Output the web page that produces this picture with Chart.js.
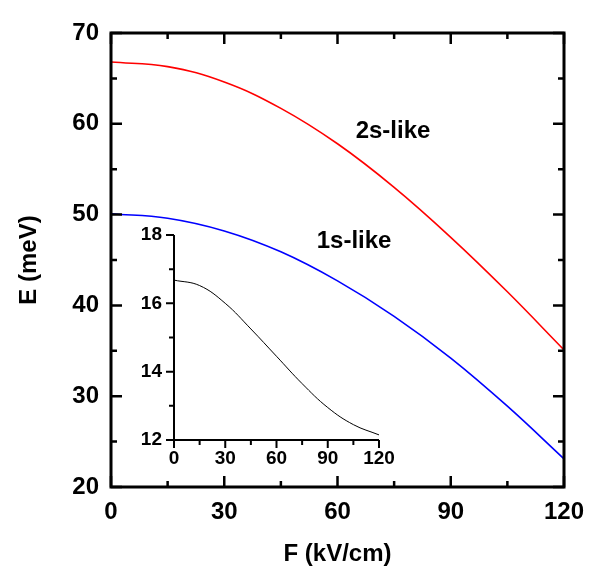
<!DOCTYPE html>
<html>
<head>
<meta charset="utf-8">
<script src="https://cdn.jsdelivr.net/npm/chart.js@4"></script>
<style>
    html, body { margin: 0; padding: 0; background: #fff; }
    #wrap { position: relative; width: 596px; height: 566px; }
    #mainChart { position: absolute; left: 0; top: 0; }
    #insetChart { position: absolute; left: 120px; top: 220px; }
</style>
</head>
<body>
<div id="wrap">
    <canvas id="mainChart" width="596" height="566"></canvas>
    <canvas id="insetChart" width="280" height="260"></canvas>
</div>
<script>
// ===== Data =====

var fieldKv   = [0, 15, 30, 45, 60, 75, 90, 105, 120];
var energy2s  = [66.8, 66.3, 64.6, 61.7, 57.8, 53.0, 47.5, 41.5, 35.1];
var energy1s  = [50.1, 49.6, 48.2, 45.9, 42.7, 38.8, 34.2, 28.9, 23.1];
var splitting = [16.68, 16.52, 16.0, 15.25, 14.45, 13.65, 12.95, 12.45, 12.15];

var xTicksMain = [0, 30, 60, 90, 120];
var yTicksMain = [20, 30, 40, 50, 60, 70];
var yTicksInset = [12, 14, 16, 18];

var curveLabels = ['2s-like', '1s-like'];
var curveLabelF = [74.7, 64.4];
var curveLabelE = [59.2, 47.0];

var FONT = '"Liberation Sans", Arial, Helvetica, sans-serif';

function toPoints(xs, ys) {
    var pts = [];
    for (var i = 0; i < xs.length; i++) pts.push({ x: xs[i], y: ys[i] });
    return pts;
}

function noPad(s) {
    s.paddingTop = 0; s.paddingBottom = 0;
    s.paddingLeft = 0; s.paddingRight = 0;
}

// ===== Frame + tick marks plugin =====
// draws box / axes and major+minor ticks using the chart scales

var framePlugin = {
    id: 'frame',
    afterDatasetsDraw: function(chart, args, o) {
        var ctx = chart.ctx;
        var a = chart.chartArea;
        var xs = chart.scales.x, ys = chart.scales.y;
        var dir = o.inward ? -1 : 1;
        ctx.save();
        ctx.strokeStyle = '#000';
        ctx.lineCap = 'butt';

        ctx.lineWidth = o.tickWidth;
        ctx.beginPath();
        for (var v = xs.min; v <= xs.max + 1e-9; v += o.xMinor) {
            var px = xs.getPixelForValue(v);
            var major = Math.abs(v / o.xMajor - Math.round(v / o.xMajor)) < 1e-6;
            var len = major ? o.majorLen : o.minorLen;
            ctx.moveTo(px, a.bottom);
            ctx.lineTo(px, a.bottom + dir * len);
            if (o.mirror) {
                ctx.moveTo(px, a.top);
                ctx.lineTo(px, a.top - dir * len);
            }
        }
        for (var w = ys.min; w <= ys.max + 1e-9; w += o.yMinor) {
            var py = ys.getPixelForValue(w);
            var majorY = Math.abs(w / o.yMajor - Math.round(w / o.yMajor)) < 1e-6;
            var lenY = majorY ? o.majorLen : o.minorLen;
            ctx.moveTo(a.left, py);
            ctx.lineTo(a.left - dir * lenY, py);
            if (o.mirror) {
                ctx.moveTo(a.right, py);
                ctx.lineTo(a.right + dir * lenY, py);
            }
        }
        ctx.stroke();

        ctx.lineWidth = o.lineWidth;
        ctx.beginPath();
        if (o.mirror) {
            ctx.rect(a.left, a.top, a.right - a.left, a.bottom - a.top);
        } else {
            ctx.moveTo(a.left, a.top);
            ctx.lineTo(a.left, a.bottom);
            ctx.lineTo(a.right, a.bottom);
        }
        ctx.stroke();

        // curve labels
        if (o.labels) {
            ctx.fillStyle = '#000';
            ctx.font = 'bold 24px ' + FONT;
            ctx.textAlign = 'center';
            ctx.textBaseline = 'middle';
            for (var i = 0; i < o.labels.length; i++) {
                ctx.fillText(o.labels[i], xs.getPixelForValue(o.labelX[i]), ys.getPixelForValue(o.labelY[i]));
            }
        }
        ctx.restore();
    }
};

// ===== Main chart =====

new Chart(document.getElementById('mainChart'), {
    type: 'line',
    data: {
        datasets: [{
            label: '2s-like',
            data: toPoints(fieldKv, energy2s),
            borderColor: '#ff0000',
            borderWidth: 1.6,
            pointRadius: 0,
            tension: 0.4
        }, {
            label: '1s-like',
            data: toPoints(fieldKv, energy1s),
            borderColor: '#0000ff',
            borderWidth: 1.6,
            pointRadius: 0,
            tension: 0.4
        }]
    },
    options: {
        responsive: false,
        animation: false,
        layout: { padding: { left: 0, top: 33, right: 32, bottom: 0 } },
        plugins: {
            legend: { display: false },
            tooltip: { enabled: false },
            frame: {
                inward: true, mirror: true,
                majorLen: 11, minorLen: 6, lineWidth: 3, tickWidth: 2.5,
                xMajor: 30, xMinor: 15, yMajor: 10, yMinor: 5,
                labels: curveLabels, labelX: curveLabelF, labelY: curveLabelE
            }
        },
        scales: {
            x: {
                type: 'linear', min: 0, max: 120,
                afterBuildTicks: function(s) { s.ticks = xTicksMain.map(function(v) { return { value: v }; }); },
                afterFit: function(s) { s.height = 79; noPad(s); },
                grid: { display: false, drawTicks: false },
                border: { display: false },
                ticks: { color: '#000', padding: 11, font: { family: FONT, size: 24, weight: 'bold' } },
                title: {
                    display: true, text: 'F (kV/cm)', color: '#000',
                    font: { family: FONT, size: 24, weight: 'bold', lineHeight: 1 },
                    padding: { top: 0, bottom: 0 }
                }
            },
            y: {
                type: 'linear', min: 20, max: 70,
                afterBuildTicks: function(s) { s.ticks = yTicksMain.map(function(v) { return { value: v }; }); },
                afterFit: function(s) { s.width = 111; noPad(s); },
                grid: { display: false, drawTicks: false },
                border: { display: false },
                ticks: { color: '#000', padding: 12, font: { family: FONT, size: 24, weight: 'bold' } },
                title: {
                    display: true, text: 'E (meV)', color: '#000',
                    font: { family: FONT, size: 24, weight: 'bold', lineHeight: 1 },
                    padding: { top: 17, bottom: 0 }
                }
            }
        }
    },
    plugins: [framePlugin]
});

// ===== Inset: 2s - 1s splitting =====

new Chart(document.getElementById('insetChart'), {
    type: 'line',
    data: {
        datasets: [{
            label: 'splitting',
            data: toPoints(fieldKv, splitting),
            borderColor: '#000',
            borderWidth: 1,
            pointRadius: 0,
            tension: 0.4
        }]
    },
    options: {
        responsive: false,
        animation: false,
        layout: { padding: { left: 0, top: 15, right: 21, bottom: 0 } },
        plugins: {
            legend: { display: false },
            tooltip: { enabled: false },
            frame: {
                inward: false, mirror: false,
                majorLen: 8, minorLen: 5, lineWidth: 2, tickWidth: 2,
                xMajor: 30, xMinor: 15, yMajor: 2, yMinor: 1
            }
        },
        scales: {
            x: {
                type: 'linear', min: 0, max: 120,
                afterBuildTicks: function(s) { s.ticks = xTicksMain.map(function(v) { return { value: v }; }); },
                afterFit: function(s) { s.height = 40; noPad(s); },
                grid: { display: false, drawTicks: false },
                border: { display: false },
                ticks: { color: '#000', padding: 7, font: { family: FONT, size: 19, weight: 'bold' } }
            },
            y: {
                type: 'linear', min: 12, max: 18,
                afterBuildTicks: function(s) { s.ticks = yTicksInset.map(function(v) { return { value: v }; }); },
                afterFit: function(s) { s.width = 54; noPad(s); },
                grid: { display: false, drawTicks: false },
                border: { display: false },
                ticks: { color: '#000', padding: 12, font: { family: FONT, size: 19, weight: 'bold' } }
            }
        }
    },
    plugins: [framePlugin]
});
</script>
</body>
</html>
